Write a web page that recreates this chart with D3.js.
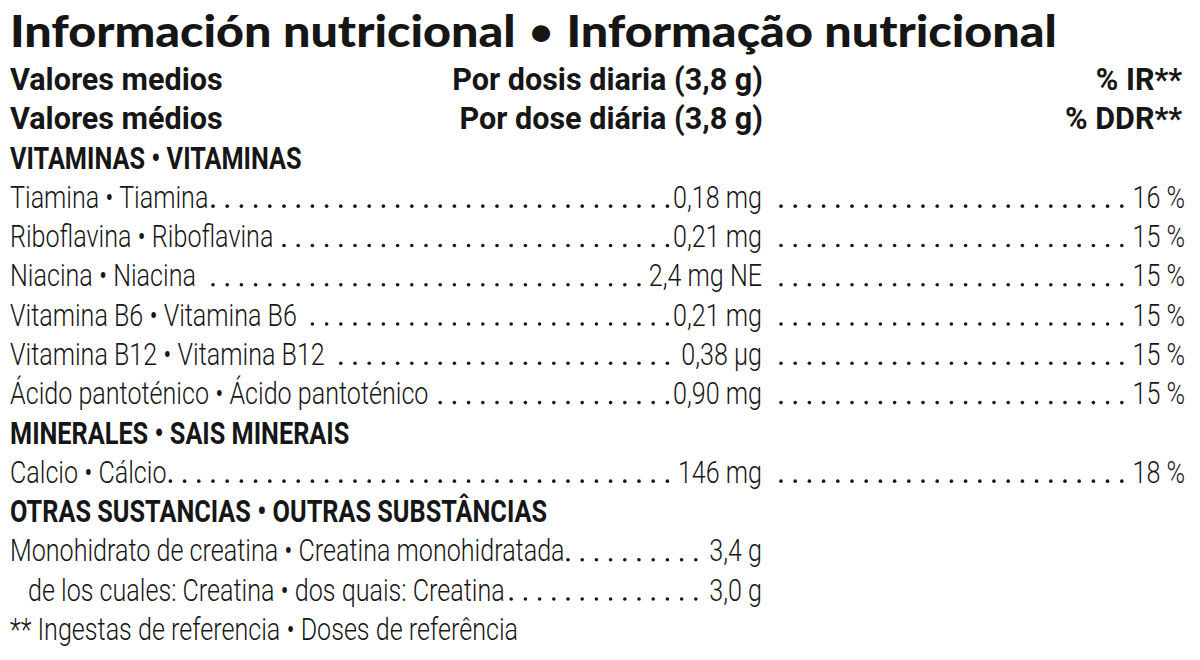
<!DOCTYPE html>
<html>
<head>
<meta charset="utf-8">
<script src="https://cdn.jsdelivr.net/npm/d3@7"></script>
<style>
  html, body { margin: 0; padding: 0; background: #ffffff; }
  svg { display: block; }
</style>
</head>
<body>
<svg id="chart" width="1200" height="660"></svg>
<script>
// ---------- data ----------
const titleParts = ["Información nutricional ", "•", " Informação nutricional"];
const headerLabels = ["Valores medios", "Valores médios"];
const headerAmounts = ["Por dosis diaria (3,8 g)", "Por dose diária (3,8 g)"];
const headerPercents = ["% IR**", "% DDR**"];
const sectionTitles = ["VITAMINAS • VITAMINAS", "MINERALES • SAIS MINERAIS", "OTRAS SUSTANCIAS • OUTRAS SUBSTÂNCIAS"];
const vitaminNames = ["Tiamina • Tiamina", "Riboflavina • Riboflavina", "Niacina • Niacina",
  "Vitamina B6 • Vitamina B6", "Vitamina B12 • Vitamina B12", "Ácido pantoténico • Ácido pantoténico"];
const vitaminAmounts = ["0,18 mg", "0,21 mg", "2,4 mg NE", "0,21 mg", "0,38 µg", "0,90 mg"];
const vitaminIR = [16, 15, 15, 15, 15, 15];
const mineralNames = ["Calcio • Cálcio"];
const mineralAmounts = ["146 mg"];
const mineralIR = [18];
const otherNames = ["Monohidrato de creatina • Creatina monohidratada", "de los cuales: Creatina • dos quais: Creatina"];
const otherAmounts = ["3,4 g", "3,0 g"];
const otherIndent = [0, 1];
const footnote = "** Ingestas de referencia • Doses de referência";

// ---------- build line list ----------
const lines = [];
headerLabels.forEach((l, i) => lines.push({type: "header", label: l, amount: headerAmounts[i], pct: headerPercents[i]}));
lines.push({type: "section", label: sectionTitles[0]});
vitaminNames.forEach((l, i) => lines.push({type: "row", label: l, amount: vitaminAmounts[i], pct: vitaminIR[i] + " %"}));
lines.push({type: "section", label: sectionTitles[1]});
mineralNames.forEach((l, i) => lines.push({type: "row", label: l, amount: mineralAmounts[i], pct: mineralIR[i] + " %"}));
lines.push({type: "section", label: sectionTitles[2]});
otherNames.forEach((l, i) => lines.push({type: "row", label: l, amount: otherAmounts[i], pct: null, indent: otherIndent[i]}));
lines.push({type: "foot", label: footnote});

// ---------- layout ----------
const svg = d3.select("#chart");
const xLabel = 10, indentW = 18, xAmountEnd = 762, xPctEnd = 1185;
const y = d3.scalePoint().domain(d3.range(lines.length)).range([90, 640]);
const ink = "#161616";
const fontSize = 32;
const styles = {
  light:   {weight: 300, sx: 0.785},
  header:  {weight: 700, sx: 0.955},
  section: {weight: 700, sx: 0.79}
};
const dotStep = 14.2, dotGap = 3;

const items = [];
function addText(g, x, yy, txt, style, anchor) {
  const st = styles[style];
  const grp = g.append("g");
  const t = grp.append("text")
    .attr("x", 0).attr("y", 0)
    .attr("font-family", "Roboto, 'Noto Sans', sans-serif")
    .attr("font-weight", st.weight)
    .attr("font-size", fontSize)
    .attr("fill", ink)
    .text(txt);
  const it = {grp, t, x, yy, anchor, sx: st.sx, w: 0};
  items.push(it);
  return it;
}

const title = svg.append("text")
  .attr("x", 0).attr("y", 0)
  .attr("font-family", "Lato, 'Open Sans', sans-serif")
  .attr("font-weight", 900)
  .attr("font-size", 44)
  .attr("fill", ink);
titleParts.forEach((p, i) => {
  title.append("tspan").attr("font-weight", i === 1 ? 400 : 900).text(p);
});

const body = svg.append("g");
const dotLayer = svg.append("g");
const leaders = [];
lines.forEach((d, i) => {
  const yy = y(i);
  const g = body.append("g");
  if (d.type === "header") {
    addText(g, xLabel, yy, d.label, "header", "start");
    addText(g, xAmountEnd + 1, yy, d.amount, "header", "end");
    addText(g, xPctEnd - 2, yy, d.pct, "header", "end");
  } else if (d.type === "section") {
    addText(g, xLabel, yy, d.label, "section", "start");
  } else if (d.type === "foot") {
    addText(g, xLabel, yy, d.label, "light", "start");
  } else {
    const lx = xLabel + (d.indent ? indentW : 0);
    const lab = addText(g, lx, yy, d.label, "light", "start");
    const am = addText(g, xAmountEnd, yy, d.amount, "light", "end");
    leaders.push({a: () => lab.x + lab.w, b: () => am.x - am.w, yy});
    if (d.pct) {
      const pc = addText(g, xPctEnd, yy, d.pct, "light", "end");
      leaders.push({a: () => xAmountEnd + 4, b: () => pc.x - pc.w, yy});
    }
  }
});

function relayout() {
  const tLen = title.node().getComputedTextLength();
  title.attr("transform", `translate(${xLabel},47) scale(${1047 / tLen},1)`);
  items.forEach(it => {
    it.w = it.t.node().getBBox().width * it.sx;
    const left = it.anchor === "end" ? it.x - it.w : it.x;
    it.grp.attr("transform", `translate(${left},${it.yy}) scale(${it.sx},1)`);
  });
  const dotData = [];
  leaders.forEach(l => {
    const k0 = Math.ceil((l.a() + dotGap) / dotStep), k1 = Math.floor((l.b() - dotGap) / dotStep);
    d3.range(k0, k1 + 1).forEach(k => dotData.push({x: k * dotStep, y: l.yy}));
  });
  dotLayer.selectAll("circle").data(dotData).join("circle")
    .attr("cx", d => d.x)
    .attr("cy", d => d.y - 1.7)
    .attr("r", 1.8)
    .attr("fill", ink);
}
relayout();
if (document.fonts && document.fonts.ready) document.fonts.ready.then(relayout);
</script>
</body>
</html>
